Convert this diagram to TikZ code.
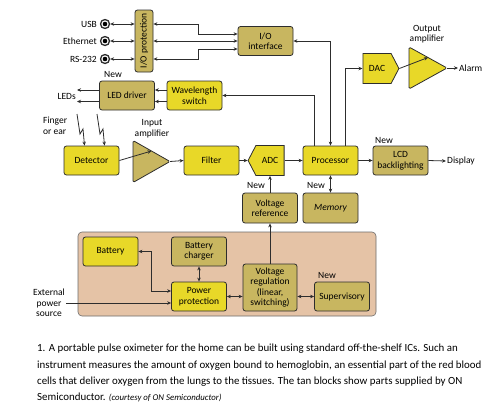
\documentclass[tikz,border=0pt]{standalone}
\usepackage{fontspec}
\setmainfont{Carlito}
\usepackage{tikz}
\usetikzlibrary{positioning,shapes.geometric,shapes.symbols,arrows.meta}

\definecolor{chipyellow}{RGB}{232,216,40}
\definecolor{chiptan}{RGB}{200,182,96}
\definecolor{onregion}{RGB}{229,195,166}
\definecolor{wire}{RGB}{45,45,45}

\tikzset{
  block/.style={draw=wire, line width=0.8pt, rounded corners=2.5pt, minimum width=55pt, minimum height=29pt, inner sep=1pt, align=center, font=\fontsize{9.5}{10.5}\selectfont},
  yblock/.style={block, fill=chipyellow},
  tblock/.style={block, fill=chiptan},
  conv/.style={draw=wire, line width=0.8pt, signal, signal pointer angle=125, minimum width=36pt, minimum height=30pt, inner sep=1pt, fill=chipyellow, font=\fontsize{9.5}{10.5}\selectfont},
  amp/.style={draw=wire, line width=0.8pt, rounded corners=1.5pt, isosceles triangle, isosceles triangle stretches, inner sep=0pt, outer sep=0pt},
  lbl/.style={font=\fontsize{9.5}{10.5}\selectfont, inner sep=1pt, align=center},
  port/.style={circle, draw=wire, line width=1.3pt, fill=white, minimum size=9pt, inner sep=0pt, path picture={\fill[black] (path picture bounding box.center) circle (2.3pt);}},
  link/.style={wire, line width=0.8pt, -{Stealth[length=4pt,width=3.5pt]}},
  dlink/.style={wire, line width=0.8pt, {Stealth[length=4pt,width=3.5pt]}-{Stealth[length=4pt,width=3.5pt]}}
}

\begin{document}
\begin{tikzpicture}[x=1pt,y=-1pt]
\useasboundingbox (0,0) rectangle (500,413);

\node[draw=wire!70, line width=0.6pt, rounded corners=4pt, fill=onregion, minimum width=298pt, minimum height=84pt] (onchip) at (227,274) {};

\node[port] (usb) at (105,24) {};
\node[port] (eth) at (105,41) {};
\node[port] (rs) at (105,59) {};
\node[lbl, anchor=east] (usbtext) at (98,24) {USB};
\node[lbl, anchor=east] (ethtext) at (98,41) {Ethernet};
\node[lbl, anchor=east] (rstext) at (98,59) {RS-232};

\node[tblock, minimum width=18pt, minimum height=62pt] (ioprot) at (144,41) {\rotatebox{90}{I/O protection}};
\node[tblock] (ioint) at (265.5,41) {I/O\\interface};
\node[yblock] (wave) at (194.5,95.5) {Wavelength\\switch};
\node[tblock] (led) at (127,95.5) {LED driver};
\node[lbl] (newled) at (113,74) {New};
\node[lbl, anchor=east] (leds) at (77,96) {LEDs};

\node[conv, signal to=east] (dac) at (377,68.5) {DAC};
\node[amp, fill=chipyellow, minimum width=42pt, minimum height=38pt, anchor=apex] (oamp) at (447,68) {};
\node[lbl] (oamptext) at (427,34) {Output\\amplifier};
\node[lbl, anchor=west] (alarm) at (458,68) {Alarm};

\node[lbl, align=left, anchor=west] (finger) at (42,126) {Finger\\or ear};
\node[yblock] (det) at (91.5,160.5) {Detector};
\node[amp, fill=chiptan, minimum width=42pt, minimum height=37pt, anchor=apex] (iamp) at (170,161.5) {};
\node[lbl] (iamptext) at (152,128.5) {Input\\amplifier};
\node[yblock] (filter) at (211.5,160.5) {Filter};
\node[conv, signal to=west] (adc) at (270,160.5) {ADC};
\node[yblock] (proc) at (330.5,160.5) {Processor};
\node[tblock] (lcd) at (400.5,160.5) {LCD\\backlighting};
\node[lbl] (newlcd) at (384,140) {New};
\node[lbl, anchor=west] (display) at (446,161) {Display};

\node[tblock, minimum height=30pt] (vref) at (270,208) {Voltage\\reference};
\node[tblock, minimum height=30pt] (mem) at (330.5,208) {\itshape Memory};
\node[lbl] (newvref) at (256,185) {New};
\node[lbl] (newmem) at (316,185) {New};

\node[yblock] (batt) at (110.5,251.5) {Battery};
\node[tblock] (chg) at (199,251.5) {Battery\\charger};
\node[yblock] (pprot) at (199,296.5) {Power\\protection};
\node[tblock, minimum width=54pt, minimum height=47pt] (vreg) at (270,287.5) {Voltage\\regulation\\(linear,\\switching)};
\node[tblock] (sup) at (342,296.5) {Supervisory};
\node[lbl] (newsup) at (327,275) {New};
\node[lbl] (ext) at (49,303) {External\\power\\source};

\draw[dlink] (usb) -- (usb -| ioprot.west);
\draw[dlink] (eth) -- (eth -| ioprot.west);
\draw[dlink] (rs) -- (rs -| ioprot.west);
\draw[dlink] (ioprot.east |- usb) -- ++(45,0) |- ([yshift=7pt]ioint.west);
\draw[dlink] (ioprot.east |- eth) -- (ioint.west);
\draw[dlink] (ioprot.east |- rs) -- ++(45,0) |- ([yshift=-8pt]ioint.west);
\draw[dlink] (ioint.east) -| (proc.north);
\draw[link] ([xshift=-16pt]proc.north) |- (wave.east);
\draw[link] ([xshift=15pt]proc.north) |- (dac.west);
\draw[link] ([yshift=5.5pt]wave.west) -- ([yshift=5.5pt]led.east);
\draw[link] ([yshift=-6pt]wave.west) -- ([yshift=-6pt]led.east);
\draw[link] ([yshift=5.5pt]led.west) -- ([yshift=5.5pt]led.west -| leds.east);
\draw[link] ([yshift=-6pt]led.west) -- ([yshift=-6pt]led.west -| leds.east);
\draw[link] (dac.east) -- (oamp.left side);
\draw[link] (oamp.apex) -- (alarm.west);

\draw[link] (77,114) -- (80,134) -- (83,129) -- ([xshift=-7pt]det.north);
\draw[link] (97,114) -- (100,134) -- (103,129) -- ([xshift=13pt]det.north);
\draw[link] (det.east) -- (iamp.left side);
\draw[link] (iamp.apex) -- (filter.west);
\draw[link] (filter.east) -- (adc.west);
\draw[link] (adc.east) -- (proc.west);
\draw[link] (proc.east) -- (lcd.west);
\draw[link] (lcd.east) -- (display.west);
\draw[link] (vref.north) -- (adc.south);
\draw[dlink] (mem.north) -- (proc.south);
\draw[link] (vreg.north) -- (vref.south);

\draw[dlink] (chg.south) -- (pprot.north);
\draw[dlink] ([yshift=5.5pt]pprot.west) -- ++(-20,0) |- (batt.east);
\draw[link] (ext.east) -- ([yshift=-6.5pt]pprot.west);
\draw[dlink] (pprot.east) -- (pprot.east -| vreg.west);
\draw[dlink] (sup.west -| vreg.east) -- (sup.west);

\node[anchor=north west, align=left, inner sep=0pt, font=\fontsize{10.9}{16.3}\selectfont] (caption) at (37,344) {1. A portable pulse oximeter for the home can be built using standard off-the-shelf ICs. Such an\\instrument measures the amount of oxygen bound to hemoglobin, an essential part of the red blood\\cells that deliver oxygen from the lungs to the tissues. The tan blocks show parts supplied by ON\\Semiconductor. {\itshape\fontsize{8.8}{16}\selectfont (courtesy of ON Semiconductor)}};
\end{tikzpicture}
\end{document}
